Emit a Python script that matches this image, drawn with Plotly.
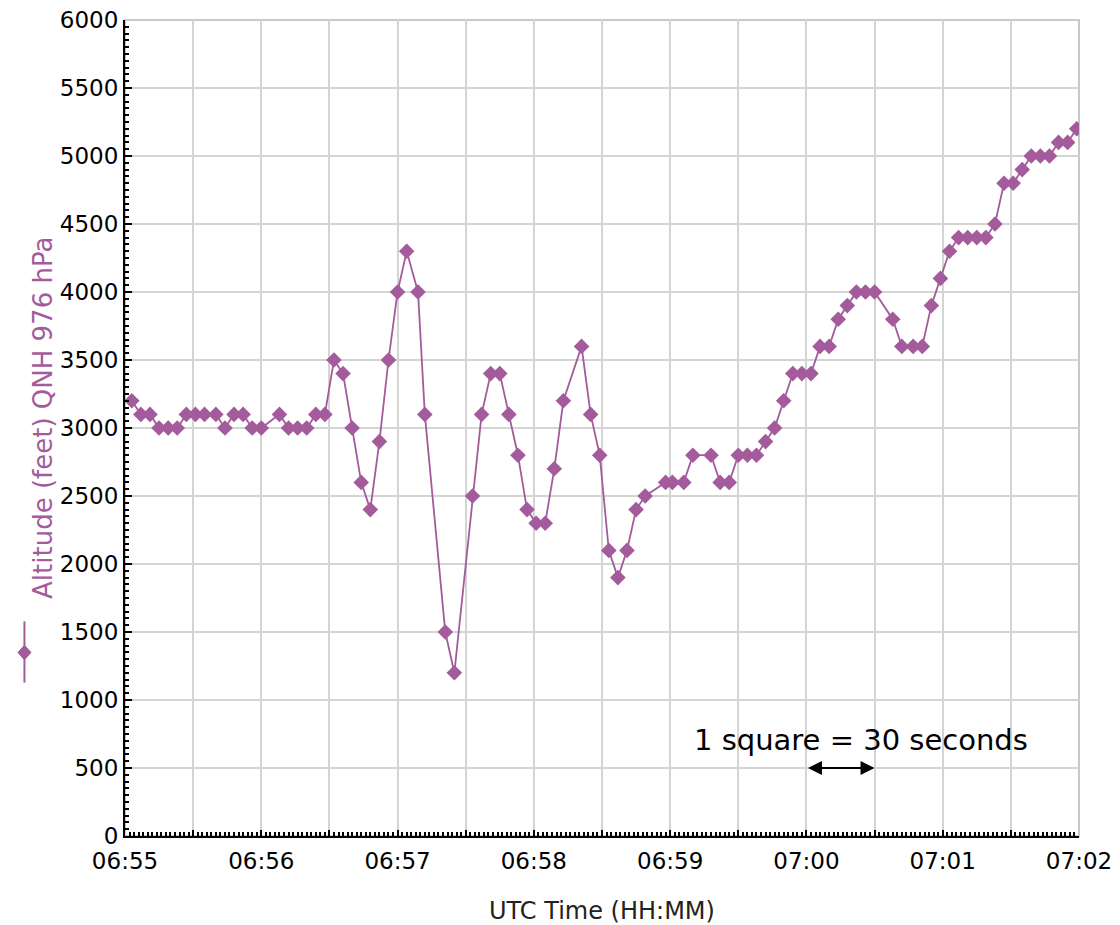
import plotly.graph_objects as go

DAY = "2000-01-01 "

times = [
    "06:55:03", "06:55:07", "06:55:11", "06:55:15", "06:55:19", "06:55:23", "06:55:27",
    "06:55:31", "06:55:35", "06:55:40", "06:55:44", "06:55:48", "06:55:52", "06:55:56",
    "06:56:00", "06:56:08", "06:56:12", "06:56:16", "06:56:20", "06:56:24", "06:56:28",
    "06:56:32", "06:56:36", "06:56:40", "06:56:44", "06:56:48", "06:56:52", "06:56:56",
    "06:57:00", "06:57:04", "06:57:09", "06:57:12", "06:57:21", "06:57:25", "06:57:33",
    "06:57:37", "06:57:41", "06:57:45", "06:57:49", "06:57:53", "06:57:57", "06:58:01",
    "06:58:05", "06:58:09", "06:58:13", "06:58:21", "06:58:25", "06:58:29", "06:58:33",
    "06:58:37", "06:58:41", "06:58:45", "06:58:49", "06:58:58", "06:59:01", "06:59:06",
    "06:59:10", "06:59:18", "06:59:22", "06:59:26", "06:59:30", "06:59:34", "06:59:38",
    "06:59:42", "06:59:46", "06:59:50", "06:59:54", "06:59:58", "07:00:02", "07:00:06",
    "07:00:10", "07:00:14", "07:00:18", "07:00:22", "07:00:26", "07:00:30", "07:00:38",
    "07:00:42", "07:00:47", "07:00:51", "07:00:55", "07:00:59", "07:01:03", "07:01:07",
    "07:01:11", "07:01:15", "07:01:19", "07:01:23", "07:01:27", "07:01:31", "07:01:35",
    "07:01:39", "07:01:43", "07:01:47", "07:01:51", "07:01:55", "07:01:59",
]

altitude_ft = [
    3200, 3100, 3100, 3000, 3000, 3000, 3100,
    3100, 3100, 3100, 3000, 3100, 3100, 3000,
    3000, 3100, 3000, 3000, 3000, 3100, 3100,
    3500, 3400, 3000, 2600, 2400, 2900, 3500,
    4000, 4300, 4000, 3100, 1500, 1200, 2500,
    3100, 3400, 3400, 3100, 2800, 2400, 2300,
    2300, 2700, 3200, 3600, 3100, 2800, 2100,
    1900, 2100, 2400, 2500, 2600, 2600, 2600,
    2800, 2800, 2600, 2600, 2800, 2800, 2800,
    2900, 3000, 3200, 3400, 3400, 3400, 3600,
    3600, 3800, 3900, 4000, 4000, 4000, 3800,
    3600, 3600, 3600, 3900, 4100, 4300, 4400,
    4400, 4400, 4400, 4500, 4800, 4800, 4900,
    5000, 5000, 5000, 5100, 5100, 5200,
]

grid_times = [
    "06:55:00", "06:55:30", "06:56:00", "06:56:30", "06:57:00", "06:57:30", "06:58:00",
    "06:58:30", "06:59:00", "06:59:30", "07:00:00", "07:00:30", "07:01:00", "07:01:30",
    "07:02:00",
]
grid_labels = [
    "06:55", "", "06:56", "", "06:57", "", "06:58",
    "", "06:59", "", "07:00", "", "07:01", "",
    "07:02",
]

scale_start = "07:00:00"
scale_end = "07:00:30"
scale_y = 500
scale_text = "1 square = 30 seconds"
scale_text_time = "07:00:24"
scale_text_y = 705

PURPLE = "#A45B9C"
FONT = "DejaVu Sans"

fig = go.Figure()
fig.add_trace(go.Scatter(
    x=[DAY + t for t in times],
    y=altitude_ft,
    mode="lines+markers",
    line=dict(color=PURPLE, width=1.8),
    marker=dict(symbol="diamond", size=12, color=PURPLE),
    showlegend=False,
))

# plot frame (top/right grey)
fig.add_shape(type="rect", xref="paper", yref="paper", x0=0, x1=1, y0=0, y1=1,
              line=dict(color="#c8c8c8", width=2), layer="below")

# legend-like symbol beside y title
lx = -0.1054
fig.add_shape(type="line", xref="paper", yref="paper", x0=lx, x1=lx, y0=0.188, y1=0.263,
              line=dict(color=PURPLE, width=2))
dx, dy = 0.0068, 0.0090
cy = 0.2249
fig.add_shape(type="path", xref="paper", yref="paper",
              path=f"M {lx-dx},{cy} L {lx},{cy+dy} L {lx+dx},{cy} L {lx},{cy-dy} Z",
              fillcolor=PURPLE, line=dict(color=PURPLE, width=1))

fig.add_annotation(xref="paper", yref="paper", x=-0.1038, y=0.5123,
                   text="Altitude (feet) QNH 976 hPa", textangle=-90, showarrow=False,
                   font=dict(family=FONT, size=26, color=PURPLE))

fig.add_annotation(x=DAY + scale_text_time, y=scale_text_y, text=scale_text, showarrow=False,
                   font=dict(family=FONT, size=29, color="black"), xanchor="center", yanchor="middle")
fig.add_annotation(x=DAY + scale_end, y=scale_y, ax=DAY + scale_start, ay=scale_y,
                   xref="x", yref="y", axref="x", ayref="y", text="",
                   showarrow=True, arrowside="end+start", arrowhead=2, arrowsize=1.4,
                   arrowwidth=2, arrowcolor="black")

fig.update_xaxes(
    range=[DAY + grid_times[0], DAY + grid_times[-1]],
    tickmode="array", tickvals=[DAY + t for t in grid_times], ticktext=grid_labels,
    ticks="inside", ticklen=6, tickwidth=2, tickcolor="black",
    minor=dict(dtick=2000, tick0=DAY + grid_times[0], ticks="inside", ticklen=4,
               tickwidth=1.5, tickcolor="black", showgrid=False),
    showgrid=True, gridcolor="#d4d4d4", gridwidth=1.5,
    showline=True, linecolor="black", linewidth=2,
    tickfont=dict(family=FONT, size=23, color="black"),
    ticklabelstandoff=3,
    title=dict(text="UTC Time (HH:MM)", font=dict(family=FONT, size=24, color="#222"), standoff=30),
    zeroline=False, automargin=False,
)
fig.update_yaxes(
    range=[0, 6000], dtick=500, tick0=0,
    ticks="inside", ticklen=7, tickwidth=2, tickcolor="black",
    minor=dict(dtick=50, ticks="inside", ticklen=4, tickwidth=1.5, tickcolor="black", showgrid=False),
    showgrid=True, gridcolor="#d4d4d4", gridwidth=1.5,
    showline=True, linecolor="black", linewidth=2,
    tickfont=dict(family=FONT, size=23, color="black"),
    zeroline=False, automargin=False,
)

fig.update_layout(
    width=1120, height=925,
    margin=dict(l=125, r=41, t=20, b=89),
    plot_bgcolor="white", paper_bgcolor="white",
    font=dict(family=FONT),
)

fig.write_html("out.html", config={"displayModeBar": False},
               post_script="document.body.style.margin='0';")
